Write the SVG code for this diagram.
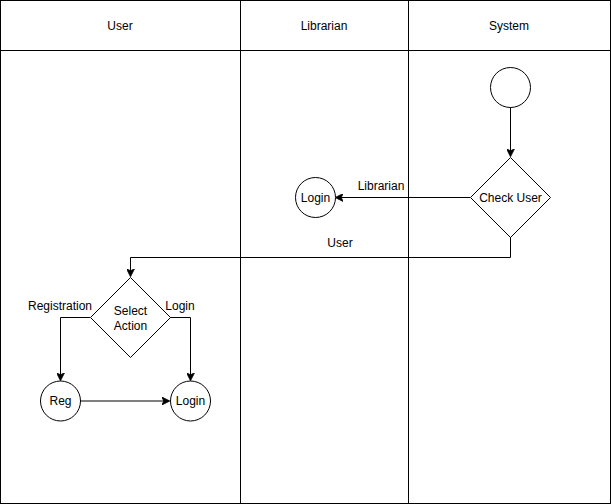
<svg xmlns="http://www.w3.org/2000/svg" width="611" height="504" viewBox="0 0 611 504">
<style>
.ln{fill:none;stroke:#000;stroke-width:1}
.sh{fill:#fff;stroke:#000;stroke-width:1}
.t{font-family:"Liberation Sans",Arial,sans-serif;font-size:12px;fill:#000;text-anchor:middle;dominant-baseline:central}
.lb{font-family:"Liberation Sans",Arial,sans-serif;font-size:12px;fill:#000;text-anchor:middle;dominant-baseline:central}
</style>
<defs>
<marker id="ah" viewBox="0 0 10 10" refX="9" refY="5" markerWidth="8" markerHeight="8" markerUnits="userSpaceOnUse" orient="auto">
<path d="M0,0 L10,5 L0,10 L2.5,5 Z" fill="#000" stroke="#000" stroke-width="1"/>
</marker>
</defs>
<rect width="611" height="504" fill="#fff"/>
<g id="lanes">
<rect class="ln" x="0.5" y="0.5" width="610" height="503"/>
<line class="ln" x1="0.5" y1="50.5" x2="610.5" y2="50.5"/>
<line class="ln" x1="240.5" y1="0.5" x2="240.5" y2="503.5"/>
<line class="ln" x1="408.5" y1="0.5" x2="408.5" y2="503.5"/>
<text class="t" x="120" y="26">User</text>
<text class="t" x="324" y="26">Librarian</text>
<text class="t" x="509" y="26">System</text>
</g>
<g id="connectors">
<path class="ln" d="M510.5,107 L510.5,156" marker-end="url(#ah)"/>
<path class="ln" d="M470,197.5 L336,197.5" marker-end="url(#ah)"/>
<path class="ln" d="M510.5,237 L510.5,257.5 L130.5,257.5 L130.5,276" marker-end="url(#ah)"/>
<path class="ln" d="M90,317.5 L60.5,317.5 L60.5,380" marker-end="url(#ah)"/>
<path class="ln" d="M170,317.5 L190.5,317.5 L190.5,380" marker-end="url(#ah)"/>
<path class="ln" d="M80,401 L169,401" marker-end="url(#ah)"/>
<text class="lb" x="381" y="186">Librarian</text>
<text class="lb" x="340" y="243">User</text>
<text class="lb" x="60" y="306">Registration</text>
<text class="lb" x="180" y="306">Login</text>
</g>
<g id="start"><circle class="sh" cx="510.5" cy="87.5" r="20"/></g>
<g id="checkUser"><path class="sh" d="M510.5,157.5 L550.5,197.5 L510.5,237.5 L470.5,197.5 Z"/><text class="t" x="510.5" y="197.5">Check User</text></g>
<g id="libLogin"><circle class="sh" cx="315.5" cy="197.5" r="20"/><text class="t" x="315.5" y="197.5">Login</text></g>
<g id="selectAction"><path class="sh" d="M130.5,277.5 L170.5,317.5 L130.5,357.5 L90.5,317.5 Z"/><text class="t" x="130.5" y="310.5">Select</text><text class="t" x="130.5" y="325.5">Action</text></g>
<g id="reg"><circle class="sh" cx="60.5" cy="401" r="20"/><text class="t" x="60.5" y="401">Reg</text></g>
<g id="userLogin"><circle class="sh" cx="190.5" cy="401" r="20"/><text class="t" x="190.5" y="401">Login</text></g>
</svg>
